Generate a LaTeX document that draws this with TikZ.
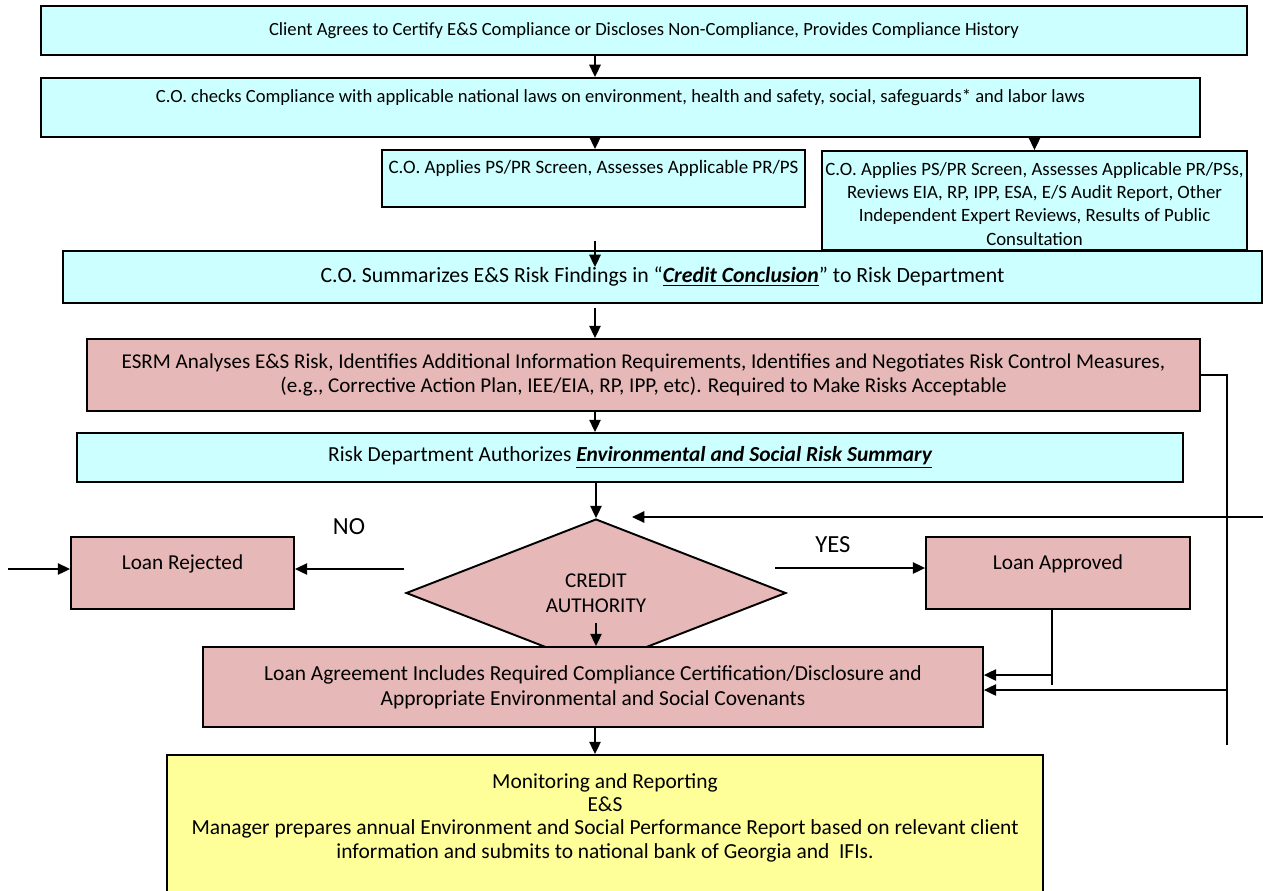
\documentclass[tikz,border=0pt]{standalone}
\usepackage{fontspec}
\setmainfont{Carlito}
\usetikzlibrary{arrows.meta,positioning,shapes.geometric}
\definecolor{boxcyan}{HTML}{CCFFFF}
\definecolor{boxrose}{HTML}{E6B8B7}
\definecolor{boxyellow}{HTML}{FFFF99}
\newcommand{\fs}[2]{\fontsize{#1}{#2}\selectfont}

\begin{document}
\begin{tikzpicture}[x=0.02cm, y=-0.02cm, line width=0.9pt,
    box/.style={draw, line width=1.1pt, inner sep=2pt, align=center},
    bluebox/.style={box, fill=boxcyan},
    rosebox/.style={box, fill=boxrose},
    arr/.style={-{Triangle[length=7pt,width=6.5pt]}, line width=0.9pt}]
  \useasboundingbox (0,0) rectangle (1263,890);
  \coordinate (mid) at (595,0);

  % screening boxes
  \node[bluebox, minimum width=24.12cm, minimum height=0.98cm, font=\fs{10.6}{12.5}] (client) at (644,30.5)
    {Client Agrees to Certify E\&S Compliance or Discloses Non-Compliance, Provides Compliance History};
  \node[bluebox, minimum width=23.18cm, minimum height=1.18cm, font=\fs{10.6}{11.5}] (checks) at (620.5,107.5)
    {C.O. checks Compliance with applicable national laws on environment, health and safety, social, safeguards* and labor laws\\[-2pt] \strut};
  \node[bluebox, minimum width=8.46cm, minimum height=1.14cm, font=\fs{10.8}{11.5}] (screen) at (593.5,178.5)
    {C.O. Applies PS/PR Screen, Assesses Applicable PR/PS\\[-2pt] \strut};
  \node[bluebox, minimum width=8.46cm, minimum height=1.98cm, font=\fs{10.7}{13.2}] (review) at (1034.5,200.5)
    {\rule{0pt}{1.05em}C.O. Applies PS/PR Screen, Assesses Applicable PR/PSs,\\Reviews EIA, RP, IPP, ESA, E/S Audit Report, Other\\Independent Expert Reviews, Results of Public\\Consultation};
  \node[bluebox, minimum width=23.98cm, minimum height=1.04cm, font=\fs{12.4}{14.5}] (summary) at (662.5,277)
    {C.O. Summarizes E\&S Risk Findings in “\textbf{\textit{\underline{Credit Conclusion}}}” to Risk Department};
  \node[rosebox, minimum width=22.26cm, minimum height=1.44cm, font=\fs{12}{13.6}] (esrm) at (643.5,375)
    {ESRM Analyses E\&S Risk, Identifies Additional Information Requirements, Identifies and Negotiates Risk Control Measures,\\(e.g., Corrective Action Plan, IEE/EIA, RP, IPP, etc). Required to Make Risks Acceptable};
  \node[bluebox, minimum width=22.12cm, minimum height=0.98cm, font=\fs{12.2}{14}] (risk) at (630,457.5)
    {Risk Department Authorizes \textbf{\textit{\underline{Environmental and Social Risk Summary}}}};

  % decision
  \node[rosebox, diamond, aspect=2.5, inner sep=0pt, minimum width=7.6cm, minimum height=2.96cm, font=\fs{12}{14.5}] (credit) at (596,593)
    {CREDIT\\AUTHORITY};
  \node[rosebox, minimum width=4.46cm, minimum height=1.44cm, font=\fs{12.1}{13.5}] (rejected) at (182.5,573) {Loan Rejected\\[-5.5pt] \strut};
  \node[rosebox, minimum width=5.28cm, minimum height=1.44cm, font=\fs{12.1}{13.5}] (approved) at (1058,573) {Loan Approved\\[-5.5pt] \strut};
  \node[font=\fs{14}{16}] (no) at (349,527) {NO};
  \node[font=\fs{14}{16}] (yes) at (833,545) {YES};
  \node[rosebox, minimum width=15.6cm, minimum height=1.6cm, font=\fs{12.2}{14.2}] (agree) at (593,687)
    {Loan Agreement Includes Required Compliance Certification/Disclosure and\\Appropriate Environmental and Social Covenants};

  % monitoring
  \node[box, fill=boxyellow, minimum width=17.52cm, minimum height=3cm] (monitor) at (605,830) {};
  \node[anchor=north, align=center, font=\fs{12.2}{13.2}] (monitortext) at (605,767)
    {Monitoring and Reporting\\E\&S\\Manager prepares annual Environment and Social Performance Report based on relevant client\\information and submits to national bank of Georgia and\ \ IFIs.};

  % main flow
  \draw[arr] (client.south -| mid) -- (checks.north -| mid);
  \draw[arr] (checks.south -| mid) -- (screen.north -| mid);
  \draw[arr] (checks.south -| review.north) -- (review.north);
  \draw[arr] ([yshift=-0.66cm]screen.south -| mid) -- ([yshift=-0.34cm]summary.north -| mid);
  \draw[arr] ([yshift=-0.08cm]summary.south -| mid) -- (esrm.north -| mid);
  \draw[arr] (esrm.south -| mid) -- (risk.north -| mid);
  \draw[arr] (risk.south -| credit.north) -- (credit.north);
  \draw[arr] ([yshift=-0.6cm]credit.center) -- (agree.north -| credit.center);
  \draw[arr] (agree.south -| mid) -- (monitor.north -| mid);

  % decision branches
  \coordinate (nostart) at (404,569);
  \coordinate (rejin) at (8,569);
  \coordinate (yesstart) at (775,568);
  \draw[arr] (nostart) -- (nostart -| rejected.east);
  \draw[arr] (rejin) -- (rejin -| rejected.west);
  \draw[arr] (yesstart) -- (yesstart -| approved.west);

  % return lines
  \coordinate (apdrop) at (1052,675);
  \coordinate (rtop) at (1227,375);
  \coordinate (rbot) at (1227,745);
  \coordinate (backin) at (1263,517);
  \coordinate (backend) at (632,517);
  \draw (approved.south -| apdrop) -- ([yshift=-0.2cm]apdrop);
  \draw[arr] (apdrop) -- (apdrop -| agree.east);
  \draw (esrm.east) -- (rtop) -- (rbot);
  \draw[arr] (backin) -- (backend);
  \draw[arr] (rtop |- 0,690) -- (agree.east |- 0,690);
\end{tikzpicture}
\end{document}
